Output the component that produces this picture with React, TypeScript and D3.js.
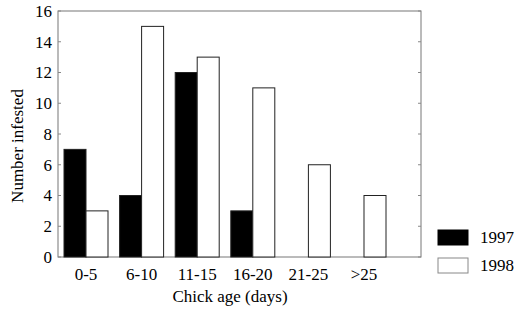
import React, { useRef, useEffect } from 'react';
import * as d3 from 'd3';

const categories = ['0-5', '6-10', '11-15', '16-20', '21-25', '>25'];
const years = ['1997', '1998'];
const values1997 = [7, 4, 12, 3, 0, 0];
const values1998 = [3, 15, 13, 11, 6, 4];
const yTicks = [0, 2, 4, 6, 8, 10, 12, 14, 16];

const FONT = '"Liberation Serif", "Times New Roman", serif';
const FS = 17;

const App: React.FC = () => {
  const svgRef = useRef<SVGSVGElement>(null);

  useEffect(() => {
    const svg = d3.select(svgRef.current);
    svg.selectAll('*').remove();

    const plot = { left: 58, right: 421, top: 11, bottom: 257 };

    const x = d3.scaleBand<string>()
      .domain(categories)
      .range([64, 386])
      .paddingInner(0.2086)
      .paddingOuter(0);

    const sub = d3.scaleBand<string>()
      .domain(years)
      .range([0, x.bandwidth()]);

    const y = d3.scaleLinear().domain([0, 16]).range([plot.bottom, plot.top]);

    const colors = d3.scaleOrdinal<string, string>().domain(years).range(['#000', '#fff']);

    // plot frame
    svg.append('rect')
      .attr('x', plot.left)
      .attr('y', plot.top)
      .attr('width', plot.right - plot.left)
      .attr('height', plot.bottom - plot.top)
      .attr('fill', 'none')
      .attr('stroke', '#777')
      .attr('stroke-width', 1);

    // y ticks (inward on both sides)
    const tickG = svg.append('g');
    yTicks.forEach(t => {
      tickG.append('line')
        .attr('x1', plot.left).attr('x2', plot.left + 3)
        .attr('y1', y(t)).attr('y2', y(t))
        .attr('stroke', '#888');
      tickG.append('line')
        .attr('x1', plot.right - 3).attr('x2', plot.right)
        .attr('y1', y(t)).attr('y2', y(t))
        .attr('stroke', '#888');
      tickG.append('text')
        .attr('x', 52)
        .attr('y', y(t))
        .attr('dy', '0.35em')
        .attr('text-anchor', 'end')
        .attr('font-family', FONT)
        .attr('font-size', FS)
        .attr('fill', '#000')
        .text(t);
    });

    const rows = categories.map((c, i) => ({ c, v: [values1997[i], values1998[i]] }));

    const groups = svg.append('g')
      .selectAll('g')
      .data(rows)
      .join('g')
      .attr('transform', d => `translate(${x(d.c)},0)`);

    groups.selectAll('rect')
      .data(d => years.map((yr, j) => ({ yr, v: d.v[j] })))
      .join('rect')
      .attr('x', d => sub(d.yr)!)
      .attr('width', sub.bandwidth())
      .attr('y', d => y(d.v))
      .attr('height', d => y(0) - y(d.v))
      .attr('fill', d => colors(d.yr))
      .attr('stroke', '#222')
      .attr('stroke-width', 1);

    // category labels
    svg.append('g')
      .selectAll('text')
      .data(categories)
      .join('text')
      .attr('x', d => x(d)! + x.bandwidth() / 2)
      .attr('y', 280)
      .attr('text-anchor', 'middle')
      .attr('font-family', FONT)
      .attr('font-size', FS)
      .attr('fill', '#000')
      .text(d => d);

    // axis titles
    svg.append('text')
      .attr('x', 230)
      .attr('y', 302)
      .attr('text-anchor', 'middle')
      .attr('font-family', FONT)
      .attr('font-size', FS)
      .attr('fill', '#000')
      .text('Chick age (days)');

    svg.append('text')
      .attr('transform', `translate(23,146) rotate(-90)`)
      .attr('text-anchor', 'middle')
      .attr('font-family', FONT)
      .attr('font-size', FS)
      .attr('fill', '#000')
      .text('Number infested');

    // legend
    const legend = svg.append('g').attr('transform', 'translate(438,230)');
    legend.selectAll('rect')
      .data(years)
      .join('rect')
      .attr('x', 0)
      .attr('y', (d, i) => i * 28)
      .attr('width', 30)
      .attr('height', 15)
      .attr('fill', d => colors(d))
      .attr('stroke', d => (d === '1997' ? '#000' : '#888'));
    legend.selectAll('text')
      .data(years)
      .join('text')
      .attr('x', 42)
      .attr('y', (d, i) => i * 28 + 13)
      .attr('font-family', FONT)
      .attr('font-size', FS)
      .attr('fill', '#000')
      .text(d => d);
  }, []);

  return (
    <svg
      ref={svgRef}
      width={518}
      height={311}
      style={{ position: 'absolute', left: 0, top: 0, background: '#fff' }}
    />
  );
};

export default App;
